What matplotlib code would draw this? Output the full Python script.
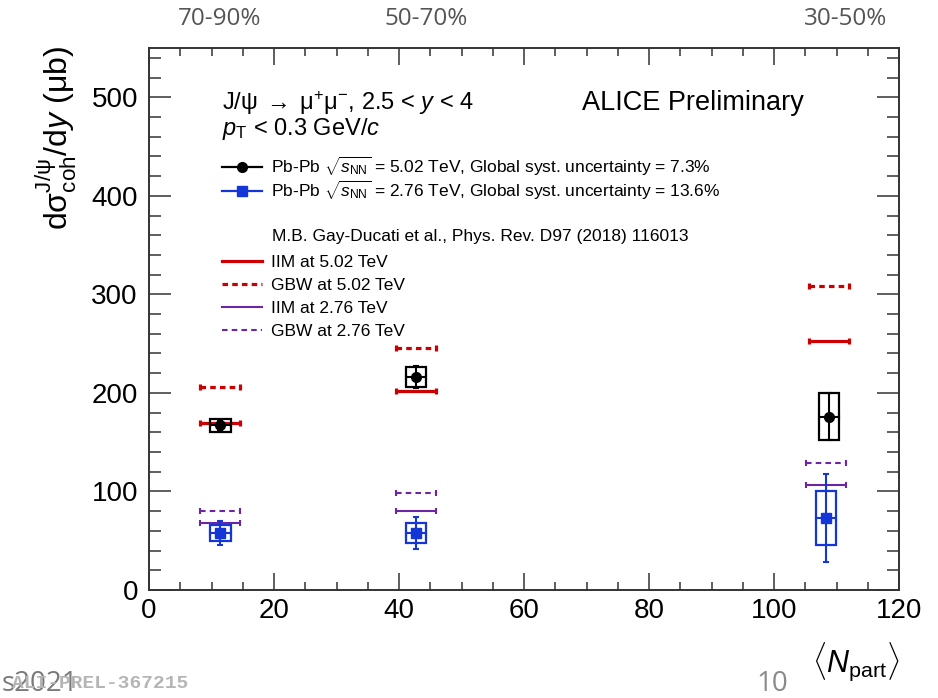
import matplotlib
matplotlib.use("Agg")
import matplotlib.pyplot as plt
from matplotlib.lines import Line2D
from matplotlib.ticker import MultipleLocator
import numpy as np

plt.rcParams["font.family"] = ["Liberation Sans", "DejaVu Sans"]
plt.rcParams["mathtext.fontset"] = "custom"
plt.rcParams["mathtext.rm"] = "Liberation Sans"
plt.rcParams["mathtext.it"] = "Liberation Sans:italic"
plt.rcParams["mathtext.bf"] = "Liberation Sans:bold"
plt.rcParams["lines.scale_dashes"] = False

# Centrality classes and mean number of participants
centrality = ["70-90%", "50-70%", "30-50%"]
npart_502 = [11.4, 42.7, 108.8]
npart_276 = [11.4, 42.7, 108.3]

# Measured coherent J/psi cross sections (microbarn)
xsec_502 = [167, 216, 176]
stat_502 = [6, 11, 24]
syst_502 = [7, 10, 24]

xsec_276 = [58, 58, 73]
stat_276 = [12, 16, 45]
syst_276 = [8, 10, 27]

# Model predictions (Gay-Ducati et al.)
iim_502 = [169, 202, 253]
gbw_502 = [206, 246, 308]
iim_276 = [68, 80, 107]
gbw_276 = [80, 98, 129]

box_w = 3.3      # width of systematic boxes in Npart units
model_hw = 3.2   # half width of model bands

RED = "#cc0000"
PURPLE = "#6a26a6"
BLUE = "#1436d6"

fig = plt.figure(figsize=(9.38, 6.98), dpi=100)
ax = fig.add_axes([149 / 938, 1 - 590 / 698, 750 / 938, 542 / 698])
ax.set_xlim(0, 120)
ax.set_ylim(0, 550)


def model(xs, ys, color, lw, ls):
    eb = ax.errorbar(xs, ys, xerr=model_hw, fmt="none", ecolor=color,
                     elinewidth=lw, capsize=2.5, capthick=lw, zorder=2)
    eb[2][0].set_linestyle(ls)
    return eb


model(npart_502, iim_502, RED, 2.3, "-")
model(npart_502, gbw_502, RED, 2.3, (0, (4, 3)))
model(npart_276, iim_276, PURPLE, 1.5, "-")
model(npart_276, gbw_276, PURPLE, 1.5, (0, (4, 3)))

# Systematic uncertainty boxes
ax.bar(npart_502, 2 * np.array(syst_502), bottom=np.array(xsec_502) - np.array(syst_502),
       width=box_w, fill=False, edgecolor="black", linewidth=1.6, zorder=3)
ax.bar(npart_276, 2 * np.array(syst_276), bottom=np.array(xsec_276) - np.array(syst_276),
       width=box_w, fill=False, edgecolor=BLUE, linewidth=1.6, zorder=3)

# Data points with statistical errors
ax.errorbar(npart_502, xsec_502, yerr=stat_502, xerr=box_w / 2, fmt="o", color="black",
            markersize=7, elinewidth=1.5, capsize=2.5, capthick=1.5, zorder=4)
ax.errorbar(npart_276, xsec_276, yerr=stat_276, xerr=box_w / 2, fmt="s", color=BLUE,
            markersize=7, elinewidth=1.5, capsize=2.5, capthick=1.5, zorder=4)

# Axes styling
ax.xaxis.set_major_locator(MultipleLocator(20))
ax.xaxis.set_minor_locator(MultipleLocator(5))
ax.yaxis.set_major_locator(MultipleLocator(100))
ax.yaxis.set_minor_locator(MultipleLocator(20))
ax.tick_params(axis="both", which="both", direction="in", top=True, right=True,
               color="#333333", width=1.1)
ax.tick_params(axis="x", which="major", length=12, labelsize=20, pad=6)
ax.tick_params(axis="x", which="minor", length=6)
ax.tick_params(axis="y", which="major", length=16, labelsize=20, pad=8)
ax.tick_params(axis="y", which="minor", length=8.5)
for s in ax.spines.values():
    s.set_linewidth(1.4)
    s.set_color("#333333")

fig.text(56 / 938, 1 - 46 / 698,
         r"d$\mathrm{\sigma}^{\mathrm{J/\psi}}_{\mathrm{coh}}$/d$y$ ($\mathrm{\mu}$b)",
         rotation=90, ha="center", va="top", fontsize=23)
fig.text(899 / 938, 1 - 662 / 698, r"$\langle N_{\rm part}\rangle$",
         ha="right", va="center", fontsize=22)

# Header texts
fig.text(222 / 938, 1 - 103 / 698,
         r"J/$\mathrm{\psi}\;\rightarrow\;\mathrm{\mu^{+}\mu^{-}}$, 2.5 < $y$ < 4",
         ha="left", va="center", fontsize=17)
fig.text(222 / 938, 1 - 129 / 698, r"$p_{\rm T}$ < 0.3 GeV/$c$",
         ha="left", va="center", fontsize=17)
fig.text(582 / 938, 1 - 103 / 698, "ALICE Preliminary", ha="left", va="center", fontsize=19.5)

# Data legend
data_handles = [
    Line2D([], [], color="black", marker="o", markersize=7, lw=1.6),
    Line2D([], [], color=BLUE, marker="s", markersize=7, lw=1.6),
]
data_labels = [
    r"Pb-Pb $\sqrt{s_{\rm NN}}$ = 5.02 TeV, Global syst. uncertainty = 7.3%",
    r"Pb-Pb $\sqrt{s_{\rm NN}}$ = 2.76 TeV, Global syst. uncertainty = 13.6%",
]
leg1 = ax.legend(data_handles, data_labels, loc="upper left",
                 bbox_to_anchor=((222 - 149) / 750, (590 - 155) / 542),
                 frameon=False, fontsize=12.5, handlelength=2.3, handletextpad=0.55,
                 labelspacing=0.04, borderpad=0, borderaxespad=0)
ax.add_artist(leg1)

fig.text(272 / 938, 1 - 237 / 698, "M.B. Gay-Ducati et al., Phys. Rev. D97 (2018) 116013",
         ha="left", va="center", fontsize=12.5)

model_handles = [
    Line2D([], [], color=RED, lw=2.3),
    Line2D([], [], color=RED, lw=2.3, ls=(0, (4, 3))),
    Line2D([], [], color=PURPLE, lw=1.5),
    Line2D([], [], color=PURPLE, lw=1.5, ls=(0, (4, 3))),
]
model_labels = ["IIM at 5.02 TeV", "GBW at 5.02 TeV", "IIM at 2.76 TeV", "GBW at 2.76 TeV"]
ax.legend(model_handles, model_labels, loc="upper left",
          bbox_to_anchor=((222 - 149) / 750, (590 - 255) / 542),
          frameon=False, fontsize=12.5, handlelength=2.3, handletextpad=0.55,
          labelspacing=0.45, borderpad=0, borderaxespad=0)

# Centrality labels above the frame
for lab, xp in zip(centrality, [220, 426, 846]):
    fig.text(xp / 938, 1 - 19 / 698, lab, ha="center", va="center",
             fontsize=17.5, color="#555555", family="Open Sans")

# Footer
fig.text(78 / 938, 1 - 684 / 698, "s2021", ha="right", va="center",
         fontsize=20, color="#7a7a7a", family="Open Sans")
fig.text(12 / 938, 1 - 684 / 698, "ALI-PREL-367215", ha="left", va="center",
         fontsize=14, color="#b5b5b5", family="Liberation Mono", weight="bold")
fig.text(772 / 938, 1 - 684 / 698, "10", ha="center", va="center",
         fontsize=20, color="#8a8a8a", family="Open Sans")

fig.savefig("out.png", dpi=100)
